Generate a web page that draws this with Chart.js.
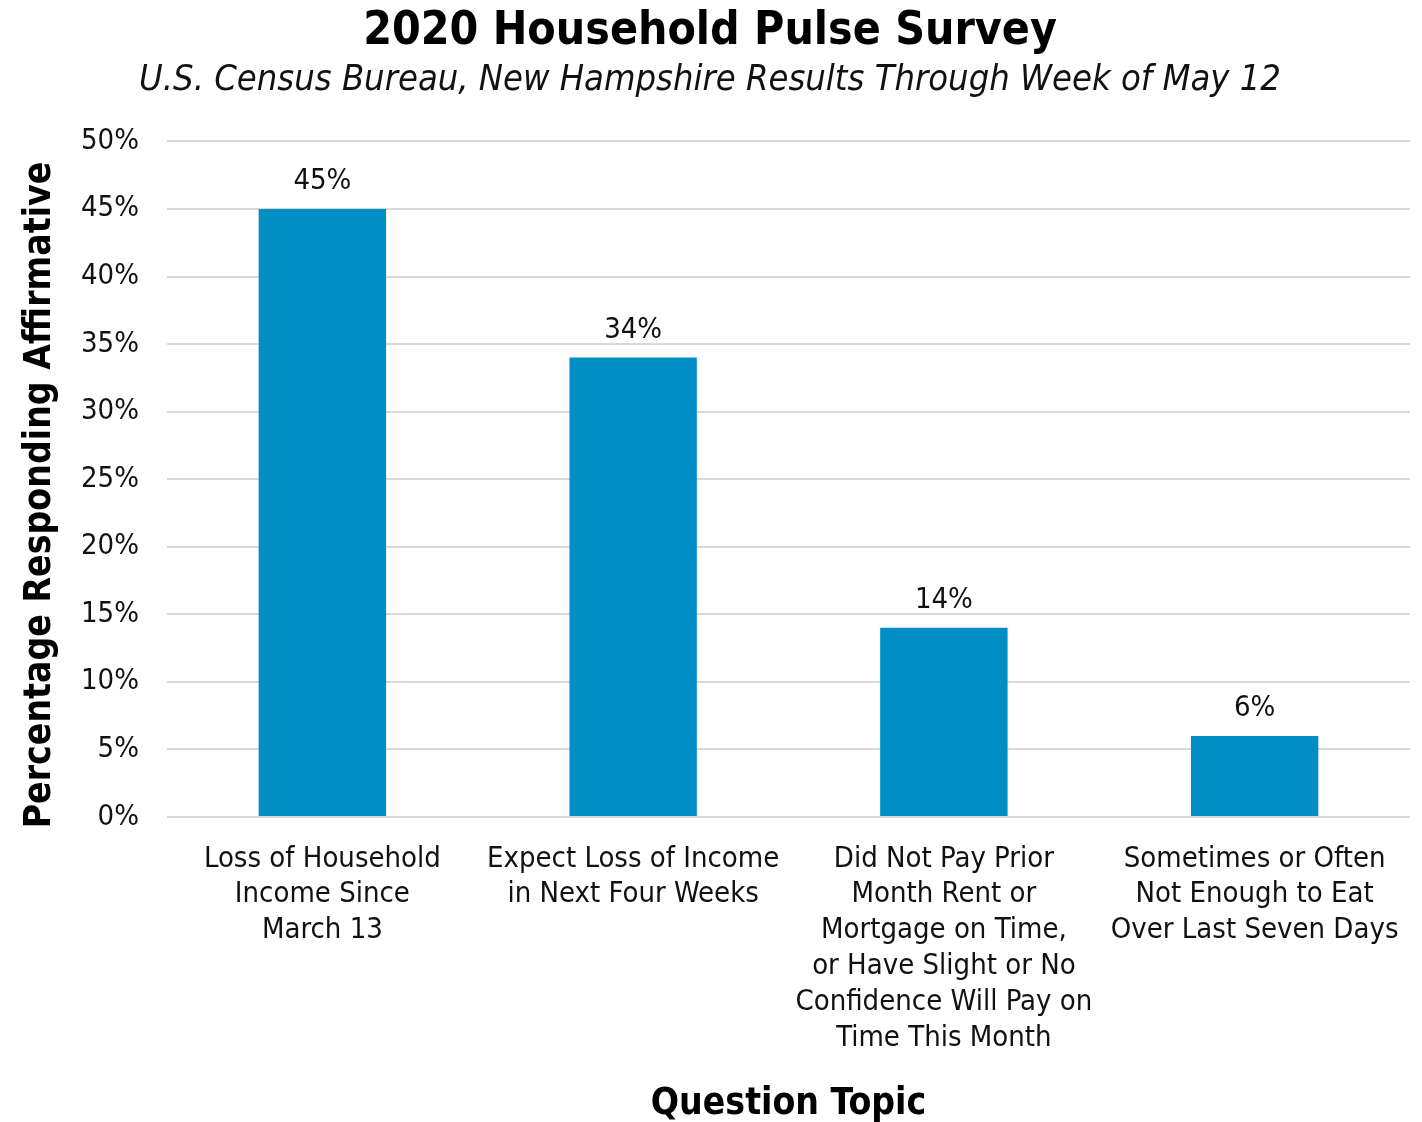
<!DOCTYPE html>
<html>
<head>
<meta charset="utf-8">
<script src="https://cdn.jsdelivr.net/npm/chart.js@4.4.1/dist/chart.umd.min.js"></script>
<style>
  html, body { margin: 0; padding: 0; background: #ffffff; }
  #wrap { width: 1422px; height: 1122px; }
</style>
</head>
<body>
<div id="wrap"><canvas id="pulseChart" width="1422" height="1122"></canvas></div>
<script>
// question topics (multi-line tick labels)
const topics = [
  ["Loss of Household", "Income Since", "March 13"],
  ["Expect Loss of Income", "in Next Four Weeks"],
  ["Did Not Pay Prior", "Month Rent or", "Mortgage on Time,", "or Have Slight or No", "Confidence Will Pay on", "Time This Month"],
  ["Sometimes or Often", "Not Enough to Eat", "Over Last Seven Days"]
];

// share responding affirmative, percent
const affirmative = [45, 34, 14, 6];

const yMax = 50;
const yStep = 5;

const xTitle = "Question Topic";
const yTitle = "Percentage Responding Affirmative";

const FONT = "'DejaVu Sans Condensed', 'DejaVu Sans', Tahoma, sans-serif";
const BLUE = "#008fc5";
const TEXT = "#111111";

// value labels above each bar + both axis titles
const barLabels = {
  id: "barLabels",
  afterDatasetsDraw(chart) {
    const ctx = chart.ctx;
    const area = chart.chartArea;
    const meta = chart.getDatasetMeta(0);
    ctx.save();
    ctx.font = "29px " + FONT;
    ctx.fillStyle = TEXT;
    ctx.textAlign = "center";
    ctx.textBaseline = "middle";
    meta.data.forEach((bar, i) => {
      ctx.fillText(affirmative[i] + "%", bar.x, bar.y - 27);
    });

    ctx.fillStyle = "#000000";
    ctx.font = "bold 37px " + FONT;
    ctx.fillText(xTitle, (area.left + area.right) / 2, 1104);

    ctx.translate(40, 495);
    ctx.rotate(-Math.PI / 2);
    ctx.fillText(yTitle, 0, 0);
    ctx.restore();
  }
};

new Chart(document.getElementById("pulseChart"), {
  type: "bar",
  data: {
    labels: topics,
    datasets: [
      {
        data: affirmative,
        backgroundColor: BLUE,
        borderWidth: 0,
        categoryPercentage: 1.0,
        barPercentage: 0.41
      }
    ]
  },
  options: {
    responsive: false,
    animation: false,
    devicePixelRatio: 1,
    layout: { padding: { left: 10, right: 12, top: 0, bottom: 0 } },
    plugins: {
      legend: { display: false },
      tooltip: { enabled: false },
      title: {
        display: true,
        text: "2020 Household Pulse Survey",
        color: "#000000",
        font: { family: FONT, size: 46, weight: "bold" },
        padding: { top: 4, bottom: 0 }
      },
      subtitle: {
        display: true,
        text: "U.S. Census Bureau, New Hampshire Results Through Week of May 12",
        color: TEXT,
        font: { family: FONT, size: 36, style: "italic" },
        padding: { top: 0, bottom: 39 }
      }
    },
    scales: {
      x: {
        grid: { display: false },
        border: { display: false },
        ticks: {
          color: TEXT,
          font: { family: FONT, size: 29, lineHeight: 1.24 },
          maxRotation: 0,
          autoSkip: false,
          padding: 16
        },
        afterFit(scale) {
          scale.height = 305;
        }
      },
      y: {
        min: 0,
        max: yMax,
        grid: { color: "#d9d9d9", lineWidth: 2, drawTicks: false },
        border: { display: false },
        ticks: {
          stepSize: yStep,
          color: TEXT,
          padding: 28,
          font: { family: FONT, size: 29 },
          callback: (v) => v + "%"
        },
        afterFit(scale) {
          scale.width = 157;
        }
      }
    }
  },
  plugins: [barLabels]
});
</script>
</body>
</html>
